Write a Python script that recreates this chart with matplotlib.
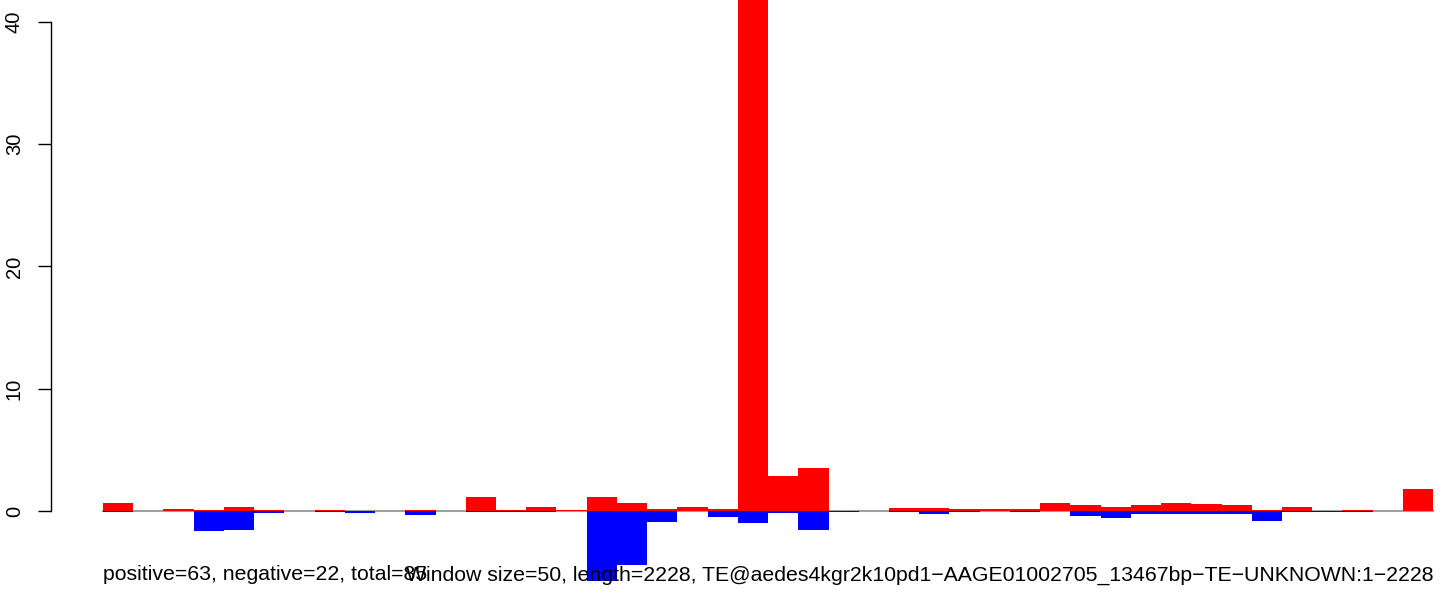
import numpy as np
import matplotlib
matplotlib.use('Agg')
import matplotlib.pyplot as plt
import matplotlib.transforms as mtransforms

plt.rcParams['font.family'] = ['Liberation Sans', 'DejaVu Sans']

# values per window (50bp)
pos_vals = [0.65, 0, 0.15, 0.1, 0.3, 0.1, 0, 0.1, 0, 0, 0.05, 0, 1.15, 0.1, 0.3, 0.05,
            1.15, 0.65, 0.15, 0.3, 0.15, 48, 2.9, 3.5, 0, 0, 0.25, 0.25, 0.15, 0.15,
            0.2, 0.65, 0.5, 0.3, 0.5, 0.65, 0.55, 0.5, 0.1, 0.3, 0, 0.1, 0, 1.8]
neg_vals = [0.1, 0, 0, 1.65, 1.55, 0.2, 0, 0.1, 0.2, 0, 0.3, 0, 0.1, 0.1, 0.1, 0,
            5.75, 4.45, 0.9, 0, 0.5, 1.0, 0.15, 1.55, 0.1, 0, 0.05, 0.25, 0.1, 0,
            0.1, 0, 0.4, 0.57, 0.25, 0.25, 0.25, 0.25, 0.85, 0.1, 0.1, 0.1, 0, 0]
yticks = [0, 10, 20, 30, 40]
left_label = "positive=63, negative=22, total=85"
right_label = "Window size=50, length=2228, TE@aedes4kgr2k10pd1\u2212AAGE01002705_13467bp\u2212TE\u2212UNKNOWN:1\u22122228"

W, H = 1444, 592
fig = plt.figure(figsize=(W/100, H/100), dpi=100)
ax = fig.add_axes([51/W, 0, (W-51)/W, 1])

x = np.arange(len(pos_vals))
# gray zero line only over the bar range
ax.plot([0, len(pos_vals)], [0, 0], color='#a0a0a0', lw=1.5, zorder=1)
ax.bar(x, pos_vals, width=1, align='edge', color='red', linewidth=0, zorder=2)
ax.bar(x, -np.array(neg_vals), width=1, align='edge', color='blue', linewidth=0, zorder=2)

ax.set_xlim(-1.72, 44.36)
ax.set_ylim(-6.63, 41.8)

for s in ['top', 'right', 'bottom']:
    ax.spines[s].set_visible(False)
ax.spines['left'].set_bounds(0, 40)
ax.spines['left'].set_linewidth(1.0)
ax.set_xticks([])
ax.set_yticks(yticks)
ax.tick_params(axis='y', length=9.5, width=1.0, pad=10, labelsize=14.5)
for lab in ax.get_yticklabels():
    lab.set_rotation(90)
    lab.set_va('center')

trans = mtransforms.blended_transform_factory(ax.transData, fig.transFigure)
ax.text(0, 1 - 575/H, left_label, transform=trans, ha='left', va='center', fontsize=15.3)
ax.text(len(pos_vals), 1 - 575/H, right_label, transform=trans, ha='right', va='center', fontsize=15.3)

fig.savefig('out.png', dpi=100)
